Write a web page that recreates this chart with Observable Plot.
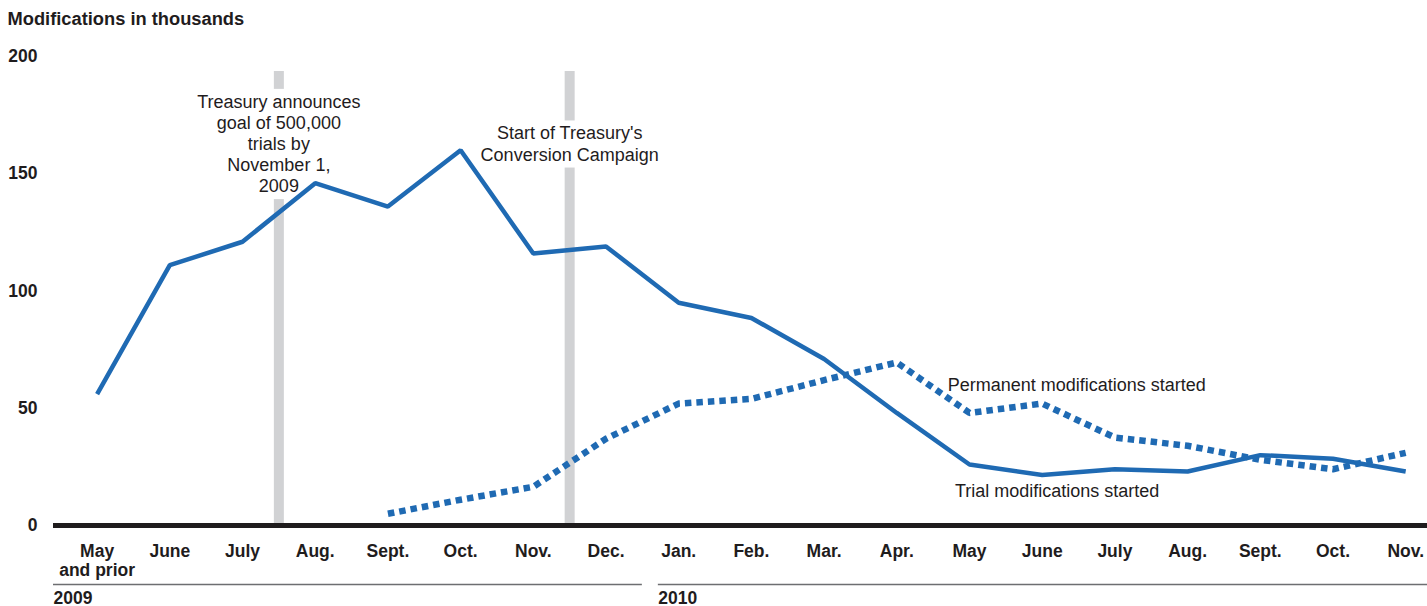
<!DOCTYPE html>
<html>
<head>
<meta charset="utf-8">
<script src="https://cdn.jsdelivr.net/npm/d3@7"></script>
<script src="https://cdn.jsdelivr.net/npm/@observablehq/plot@0.6"></script>
<style>
  body { margin: 0; background: #fff; }
  #chart svg { display: block; }
</style>
</head>
<body>
<div id="chart"></div>
<script>
// ---- data ----
const months = ["May\nand prior", "June", "July", "Aug.", "Sept.", "Oct.", "Nov.", "Dec.",
                "Jan.", "Feb.", "Mar.", "Apr.", "May", "June", "July", "Aug.", "Sept.", "Oct.", "Nov."];
const monthYear = [2009, 2009, 2009, 2009, 2009, 2009, 2009, 2009,
                   2010, 2010, 2010, 2010, 2010, 2010, 2010, 2010, 2010, 2010, 2010];
const trial = [56, 111, 121, 146, 136, 160, 116, 119, 95, 88.5, 71, 48, 26, 21.5, 24, 23, 30, 28.5, 23];
const permanent = [null, null, null, null, 5, 11, 16.5, 37, 52, 54, 62, 69.5, 48, 52, 37.5, 34, 28, 24, 31];
const yTicks = [0, 50, 100, 150, 200];
const years = ["2009", "2010"];
const eventTexts = ["Treasury announces\ngoal of 500,000\ntrials by\nNovember 1,\n2009",
                    "Start of Treasury's\nConversion Campaign"];
const eventAfterMonth = [2, 6]; // event happens between this month index and the next
const seriesNames = ["Permanent modifications started", "Trial modifications started"];
const titleText = "Modifications in thousands";

// ---- derived tables ----
const rows = months.map((m, i) => ({i, month: m, trial: trial[i], permanent: permanent[i]}));
const permRows = rows.filter(d => d.permanent != null);
const xDomain = [-0.6, 18.3];
const events = eventTexts.map((t, k) => ({text: t, pos: eventAfterMonth[k] + 0.5, labelY: 163}));
const yearRows = years.map((y) => {
  const idx = monthYear.map((v, i) => v === +y ? i : -1).filter(i => i >= 0);
  const first = idx[0], last = idx[idx.length - 1];
  return {
    year: y,
    x1: first === 0 ? xDomain[0] : first - 0.28,
    x2: Math.min(last + 0.5, xDomain[1])
  };
});
const seriesLabels = [
  {text: seriesNames[0], x: 11.7, y: 60},
  {text: seriesNames[1], x: 11.8, y: 14.5}
];

const blue = "#1f6ab3";
const ink = "#1f1c1d";
const font = "'Liberation Sans', Arial, Helvetica, sans-serif";

const plot = Plot.plot({
  width: 1427,
  height: 606,
  marginLeft: 53,
  marginRight: 0,
  marginTop: 56,
  marginBottom: 81,
  x: {type: "linear", domain: xDomain, axis: null},
  y: {domain: [0, 200], axis: null},
  style: {fontFamily: font, color: ink, background: "white", overflow: "visible"},
  marks: [
    // event bars
    Plot.ruleX(events, {x: "pos", stroke: "#d1d2d4", strokeWidth: 10, insetTop: 15}),
    // event labels (white boxes inserted behind after render)
    Plot.text(events, {x: "pos", y: "labelY", text: "text", fontSize: 18, lineHeight: 1.17,
                       lineAnchor: "middle", fill: ink, ariaDescription: "event-label"}),
    // zero baseline
    Plot.ruleY([0], {stroke: ink, strokeWidth: 5}),
    // series
    Plot.line(rows, {x: "i", y: "trial", stroke: blue, strokeWidth: 4.5,
                     strokeLinejoin: "miter", strokeLinecap: "butt"}),
    Plot.line(permRows, {x: "i", y: "permanent", stroke: blue, strokeWidth: 6.5,
                         strokeDasharray: "6.5,5", strokeLinejoin: "miter", strokeLinecap: "butt"}),
    // series labels
    Plot.text(seriesLabels, {x: "x", y: "y", text: "text", textAnchor: "start", fontSize: 18, fill: ink}),
    // y tick labels
    Plot.text(yTicks, {y: d => d, text: d => String(d), frameAnchor: "left", textAnchor: "end",
                       lineAnchor: "middle", dx: -16, fontWeight: "bold", fontSize: 17.5, fill: ink}),
    // x tick labels
    Plot.text(rows, {x: "i", y: () => 0, text: "month", lineAnchor: "top", dy: 18, lineHeight: 1.1,
                     fontWeight: "bold", fontSize: 17.5, fill: ink}),
    // year rules and labels
    Plot.ruleY(yearRows, {y: () => 0, x1: "x1", x2: "x2", dy: 59, stroke: "#6d6e71", strokeWidth: 1.5}),
    Plot.text(yearRows, {x: "x1", y: () => 0, text: "year", textAnchor: "start", lineAnchor: "middle", dy: 73,
                         fontWeight: "bold", fontSize: 17.5, fill: ink}),
    // title
    Plot.text([titleText], {text: d => d, frameAnchor: "top-left", textAnchor: "start", lineAnchor: "middle",
                            dx: -46, dy: -37, fontWeight: "bold", fontSize: 18.3, fill: ink})
  ]
});

document.getElementById("chart").append(plot);

// white boxes behind event labels, sized from their rendered text
const svg = d3.select(plot.tagName === "svg" ? plot : plot.querySelector("svg"));
svg.selectAll('g[aria-description="event-label"] text').each(function () {
  const b = this.getBBox();
  const pad = 3;
  d3.select(this.parentNode).insert("rect", () => this)
    .attr("transform", this.getAttribute("transform"))
    .attr("x", b.x - pad)
    .attr("y", b.y - pad)
    .attr("width", b.width + 2 * pad)
    .attr("height", b.height + 2 * pad)
    .attr("fill", "white")
    .attr("stroke", "none");
});
</script>
</body>
</html>
